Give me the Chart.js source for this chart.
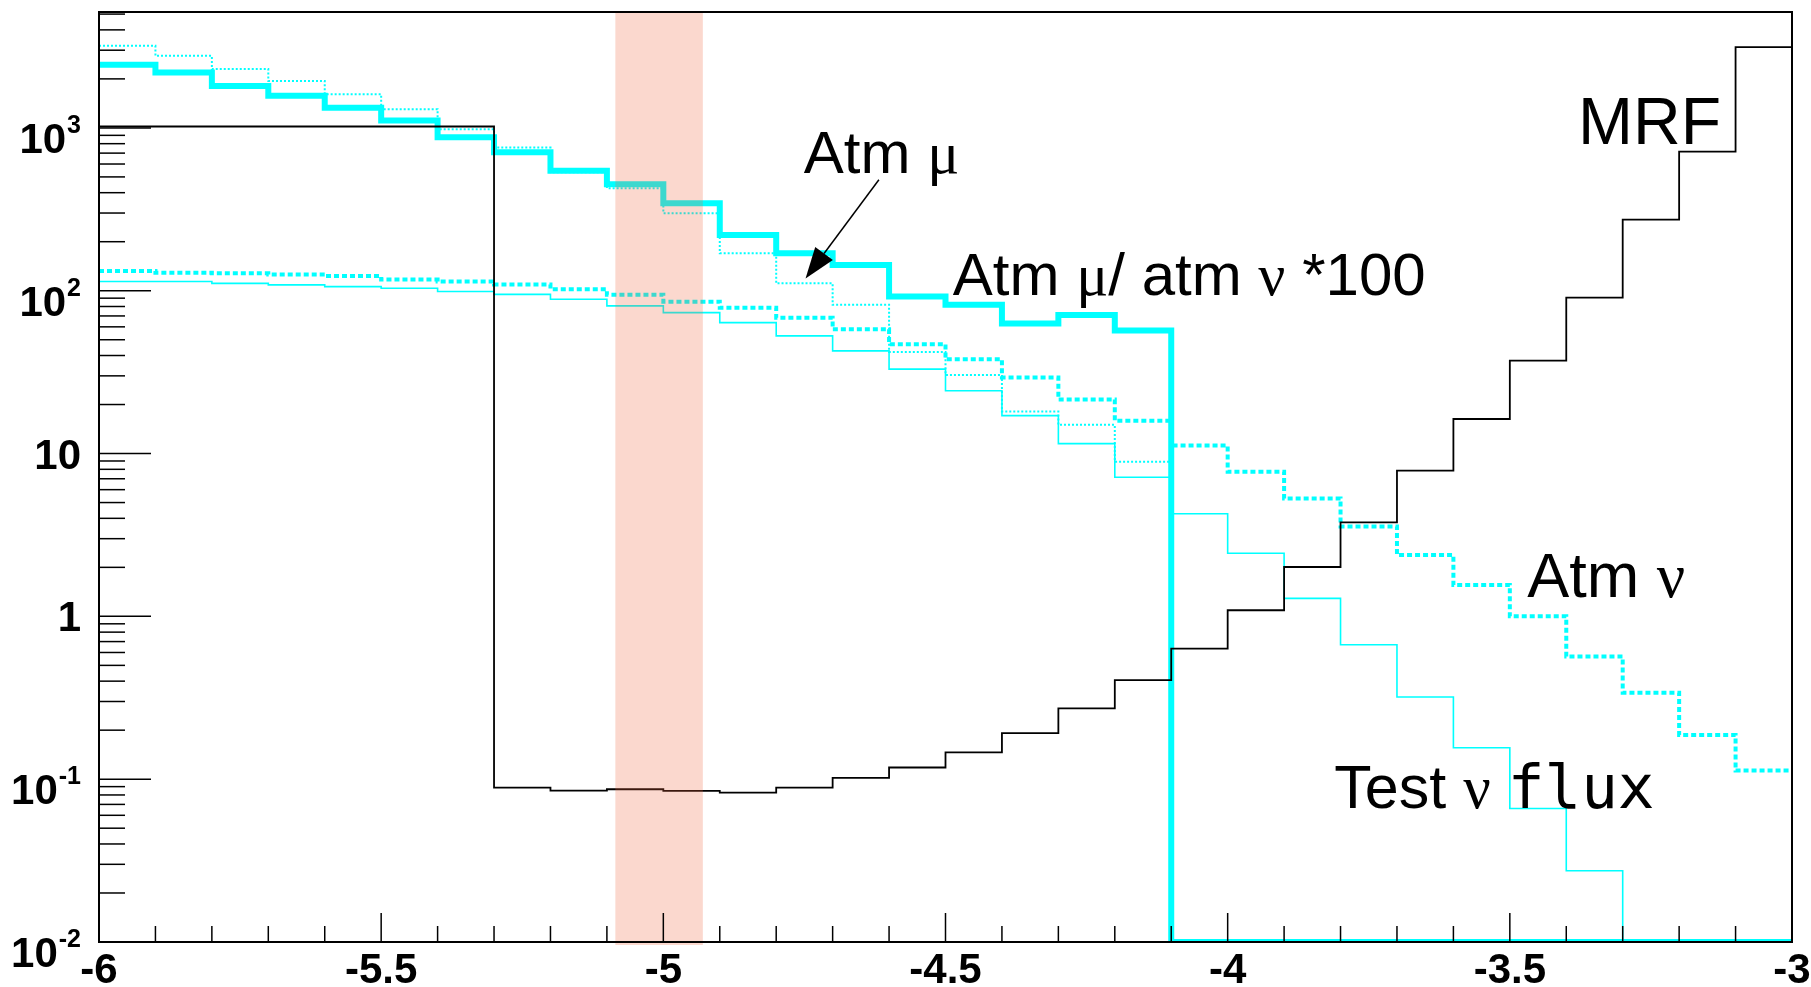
<!DOCTYPE html>
<html>
<head>
<meta charset="utf-8">
<script src="https://cdn.jsdelivr.net/npm/chart.js@4.4.0/dist/chart.umd.min.js"></script>
<style>
html, body { margin: 0; padding: 0; background: #fff; overflow: hidden; }
canvas { display: block; }
</style>
</head>
<body>
<canvas id="chart" width="1811" height="987"></canvas>
<script>
// lower edges of the 0.1 wide bins
const binLow = [-6.0, -5.9, -5.8, -5.7, -5.6, -5.5, -5.4, -5.3, -5.2, -5.1,
                -5.0, -4.9, -4.8, -4.7, -4.6, -4.5, -4.4, -4.3, -4.2, -4.1,
                -4.0, -3.9, -3.8, -3.7, -3.6, -3.5, -3.4, -3.3, -3.2, -3.1];
const xTickValues = [-6, -5.5, -5, -4.5, -4, -3.5, -3];
const xTickLabels = ['-6', '-5.5', '-5', '-4.5', '-4', '-3.5', '-3'];
const yTickValues = [0.01, 0.1, 1, 10, 100, 1000];
const yTickLabels = [['10', '-2'], ['10', '-1'], ['1', ''], ['10', ''], ['10', '2'], ['10', '3']];

// histogram contents per bin (0 = empty bin)
const mrf = [1020, 1020, 1020, 1020, 1020, 1020, 1020, 0.0887, 0.0851, 0.0867,
             0.0848, 0.0827, 0.0887, 0.102, 0.118, 0.146, 0.192, 0.272, 0.406, 0.634,
             1.09, 2.01, 3.78, 7.85, 16.3, 37.2, 90.7, 273, 715, 3130];
const atmMuRatio = [2440, 2187, 1811, 1573, 1328, 1109, 877, 709, 545, 451,
                    345, 220, 170, 144, 92, 82, 63, 71, 57, 0,
                    0, 0, 0, 0, 0, 0, 0, 0, 0, 0];
const atmMu = [3190, 2770, 2296, 1944, 1610, 1303, 982, 757, 535, 426,
               299, 170, 111, 82, 42, 30.4, 18.1, 15.0, 8.9, 0,
               0, 0, 0, 0, 0, 0, 0, 0, 0, 0];
const atmNu = [132, 129, 128, 126, 123, 117, 114, 109, 102, 94.6,
               85.7, 78.7, 68.3, 58, 46.9, 37.9, 29.3, 21.5, 15.9, 11.2,
               7.74, 5.3, 3.56, 2.38, 1.56, 1.0, 0.566, 0.34, 0.187, 0.113];
const testNu = [114, 114, 111, 108.6, 106, 103.5, 98.8, 95, 88.7, 80.7,
                73.4, 63.7, 52.8, 42.7, 33, 24.3, 17.1, 11.5, 7.15, 4.27,
                2.44, 1.29, 0.67, 0.32, 0.156, 0.066, 0.0274, 0, 0, 0];

const bandRange = [-5.085, -4.93];

const X_MIN = -6, X_MAX = -3;
const Y_MIN = 0.01, Y_MAX = 5150;

const fonts = {
    sans: '"Liberation Sans", Arial, sans-serif',
    serif: '"Liberation Serif", "Times New Roman", serif',
    mono: '"DejaVu Sans Mono", monospace'
};

const labels = [
    { x: -4.751, y: 530, size: 60, parts: [['Atm ', 'sans'], ['μ', 'serif']] },
    { x: -4.487, y: 94, size: 60, parts: [['Atm ', 'sans'], ['μ', 'serif'], ['/ atm ', 'sans'], ['ν', 'serif'], [' *100', 'sans']] },
    { x: -3.379, y: 798, size: 66, parts: [['MRF', 'sans']] },
    { x: -3.469, y: 1.315, size: 63, parts: [['Atm ', 'sans'], ['ν', 'serif']] },
    { x: -3.811, y: 0.0665, size: 61, parts: [['Test ', 'sans'], ['ν', 'serif'], [' ', 'sans'], ['flux', 'mono']] }
];
const arrow = { from: [-4.618, 480], to: [-4.748, 119] };

function histPoints(vals) {
    const pts = binLow.map((x0, i) => ({ x: x0, y: Math.max(vals[i], Y_MIN) }));
    pts.push({ x: X_MAX, y: Math.max(vals[vals.length - 1], Y_MIN) });
    return pts;
}

function drawRich(ctx, parts, x0, y0, size) {
    let cx = x0;
    parts.forEach(([t, f]) => {
        ctx.font = size + 'px ' + fonts[f];
        ctx.fillText(t, cx, y0);
        cx += ctx.measureText(t).width;
    });
}

const rootStyle = {
    id: 'rootStyle',
    afterDatasetsDraw(chart) {
        const { ctx, chartArea: a, scales: { x } } = chart;
        const bx0 = x.getPixelForValue(bandRange[0]);
        const bx1 = x.getPixelForValue(bandRange[1]);
        ctx.save();
        ctx.fillStyle = 'rgba(240,100,60,0.25)';
        ctx.fillRect(bx0, a.top + 1, bx1 - bx0, a.bottom - a.top + 2);
        ctx.restore();
    },
    afterDraw(chart) {
        const { ctx, chartArea: a, scales: { x, y } } = chart;
        ctx.save();

        // frame
        ctx.strokeStyle = '#000';
        ctx.lineWidth = 2;
        ctx.strokeRect(a.left, a.top, a.right - a.left, a.bottom - a.top);

        // ticks, drawn inward like ROOT
        ctx.lineWidth = 1.5;
        binLow.concat([X_MAX]).forEach(v => {
            const px = x.getPixelForValue(v);
            const major = xTickValues.some(t => Math.abs(t - v) < 1e-6);
            ctx.beginPath();
            ctx.moveTo(px, a.bottom);
            ctx.lineTo(px, a.bottom - (major ? 29 : 16));
            ctx.stroke();
        });
        for (let d = -2; d <= 3; d++) {
            for (let m = 1; m <= 9; m++) {
                const v = m * Math.pow(10, d);
                if (v > Y_MAX) break;
                const py = y.getPixelForValue(v);
                ctx.beginPath();
                ctx.moveTo(a.left, py);
                ctx.lineTo(a.left + (m === 1 ? 52 : 26), py);
                ctx.stroke();
            }
        }

        // y labels with exponents
        ctx.fillStyle = '#000';
        ctx.textAlign = 'right';
        ctx.textBaseline = 'alphabetic';
        const lx = a.left - 18;
        yTickValues.forEach((v, i) => {
            const py = y.getPixelForValue(v);
            const [base, exp] = yTickLabels[i];
            if (exp) {
                ctx.font = 'bold 25px ' + fonts.sans;
                ctx.fillText(exp, lx, py + 5);
                const w = ctx.measureText(exp).width;
                ctx.font = 'bold 42px ' + fonts.sans;
                ctx.fillText(base, lx - w - 1, py + 25);
            } else {
                ctx.font = 'bold 42px ' + fonts.sans;
                ctx.fillText(base, lx, py + 15);
            }
        });

        // text annotations
        ctx.textAlign = 'left';
        labels.forEach(l => {
            drawRich(ctx, l.parts, x.getPixelForValue(l.x), y.getPixelForValue(l.y), l.size);
        });

        // arrow
        const x1 = x.getPixelForValue(arrow.from[0]), y1 = y.getPixelForValue(arrow.from[1]);
        const x2 = x.getPixelForValue(arrow.to[0]), y2 = y.getPixelForValue(arrow.to[1]);
        const ang = Math.atan2(y2 - y1, x2 - x1);
        const hl = 31, hw = 11;
        const bxm = x2 - hl * Math.cos(ang), bym = y2 - hl * Math.sin(ang);
        ctx.lineWidth = 1.5;
        ctx.beginPath();
        ctx.moveTo(x1, y1);
        ctx.lineTo(bxm, bym);
        ctx.stroke();
        ctx.beginPath();
        ctx.moveTo(x2, y2);
        ctx.lineTo(bxm + hw * Math.sin(ang), bym - hw * Math.cos(ang));
        ctx.lineTo(bxm - hw * Math.sin(ang), bym + hw * Math.cos(ang));
        ctx.closePath();
        ctx.fill();

        ctx.restore();
    }
};

const CYAN = '#00ffff';

new Chart(document.getElementById('chart'), {
    type: 'line',
    data: {
        datasets: [{
            label: 'MRF',
            data: histPoints(mrf),
            borderColor: '#000',
            borderWidth: 1.8
        }, {
            label: 'Atm mu / atm nu *100',
            data: histPoints(atmMuRatio),
            borderColor: CYAN,
            borderWidth: 6
        }, {
            label: 'Atm mu',
            data: histPoints(atmMu),
            borderColor: CYAN,
            borderWidth: 2,
            borderDash: [2, 2]
        }, {
            label: 'Atm nu',
            data: histPoints(atmNu),
            borderColor: CYAN,
            borderWidth: 4,
            borderDash: [5, 3]
        }, {
            label: 'Test nu flux',
            data: histPoints(testNu),
            borderColor: CYAN,
            borderWidth: 1.6
        }]
    },
    options: {
        responsive: false,
        devicePixelRatio: 1,
        animation: false,
        datasets: {
            line: {
                stepped: 'before',
                pointRadius: 0,
                fill: false,
                tension: 0,
                borderJoinStyle: 'miter'
            }
        },
        layout: {
            padding: { top: 12, right: 19, left: 0, bottom: 0 }
        },
        plugins: {
            legend: { display: false },
            tooltip: { enabled: false },
            title: { display: false }
        },
        scales: {
            x: {
                type: 'linear',
                min: X_MIN,
                max: X_MAX,
                grid: { display: false },
                border: { display: false },
                afterBuildTicks: s => { s.ticks = xTickValues.map(v => ({ value: v })); },
                afterFit: s => { s.height = 45; s.paddingLeft = 0; s.paddingRight = 0; },
                ticks: {
                    autoSkip: false,
                    maxRotation: 0,
                    padding: -4,
                    color: '#000',
                    font: { family: 'Liberation Sans', size: 42, weight: 'bold' },
                    callback: (v, i) => xTickLabels[i]
                }
            },
            y: {
                type: 'logarithmic',
                min: Y_MIN,
                max: Y_MAX,
                grid: { display: false },
                border: { display: false },
                ticks: { display: false },
                afterFit: s => { s.width = 99; s.paddingTop = 0; s.paddingBottom = 0; }
            }
        }
    },
    plugins: [rootStyle]
});
</script>
</body>
</html>
